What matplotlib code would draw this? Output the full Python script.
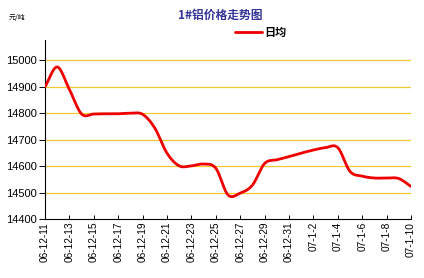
import numpy as np
import matplotlib
matplotlib.use('Agg')
from matplotlib import pyplot as plt

plt.rcParams['font.family'] = ['Liberation Sans', 'Noto Sans CJK SC', 'DejaVu Sans']

# 数据：日期（类别）与日均价
dates = ['06-12-11', '06-12-12', '06-12-13', '06-12-14', '06-12-15', '06-12-16',
         '06-12-17', '06-12-18', '06-12-19', '06-12-20', '06-12-21', '06-12-22',
         '06-12-23', '06-12-24', '06-12-25', '06-12-26', '06-12-27', '06-12-28',
         '06-12-29', '06-12-30', '06-12-31', '07-1-1', '07-1-2', '07-1-3',
         '07-1-4', '07-1-5', '07-1-6', '07-1-7', '07-1-8', '07-1-9', '07-1-10']
price = [14900, 14975, 14890, 14797, 14797, 14798, 14798, 14800, 14796, 14744,
         14649, 14601, 14601, 14608, 14592, 14491, 14498, 14528, 14610, 14624,
         14636, 14649, 14661, 14670, 14670, 14580, 14562, 14555, 14555, 14553,
         14523]
y_ticks = [14400, 14500, 14600, 14700, 14800, 14900, 15000]


def smooth(x, y, n=20):
    # 类似 Excel 的平滑线（Catmull-Rom）
    x = np.asarray(x, float)
    y = np.asarray(y, float)
    px = np.concatenate([[2 * x[0] - x[1]], x, [2 * x[-1] - x[-2]]])
    py = np.concatenate([[2 * y[0] - y[1]], y, [2 * y[-1] - y[-2]]])
    xs, ys = [], []
    t = np.linspace(0, 1, n, endpoint=False)
    for i in range(1, len(px) - 2):
        for p, out in ((px, xs), (py, ys)):
            p0, p1, p2, p3 = p[i - 1], p[i], p[i + 1], p[i + 2]
            out.extend(0.5 * (2 * p1 + (-p0 + p2) * t
                              + (2 * p0 - 5 * p1 + 4 * p2 - p3) * t ** 2
                              + (-p0 + 3 * p1 - 3 * p2 + p3) * t ** 3))
    xs.append(x[-1])
    ys.append(y[-1])
    return np.array(xs), np.array(ys)


fig = plt.figure(figsize=(4.24, 2.78), dpi=100)
ax = fig.add_axes([45 / 424, 1 - 219 / 278, 366 / 424, 179 / 278])

x = np.arange(len(dates))
sx, sy = smooth(x, price)
line, = ax.plot(sx, sy, color='#ee0000', lw=2.0, solid_capstyle='round', zorder=3)

ax.set_xlim(0, len(dates) - 1)
ax.set_ylim(14400, 15077)
ax.set_yticks(y_ticks)
ax.set_yticklabels([str(v) for v in y_ticks], fontsize=8)
ax.set_xticks(x[::2])
ax.set_xticklabels(dates[::2], rotation=90, fontsize=7.3)
for v in y_ticks[1:]:
    ax.axhline(v, color='#f5c830', lw=0.9, zorder=1)

for s in ['top', 'right']:
    ax.spines[s].set_visible(False)
for s in ['left', 'bottom']:
    ax.spines[s].set_color('black')
    ax.spines[s].set_linewidth(0.8)
ax.tick_params(axis='both', length=3, width=0.7, direction='in', pad=2)
ax.tick_params(axis='y', length=4, direction='out')

fig.text(0.52, 0.945, '1#铝价格走势图', ha='center', va='center', fontsize=8.5,
         fontweight='bold', color='#333399', family=['Noto Sans CJK SC'])
fig.text(0.02, 0.935, '元/吨', ha='left', va='center', fontsize=5,
         family=['Noto Sans CJK SC'])
ax.legend([line], ['日均'], loc='center', bbox_to_anchor=(261 / 424, 1 - 32 / 278),
          bbox_transform=fig.transFigure, frameon=False, handlelength=2.4,
          handletextpad=0.2, prop={'family': 'Noto Sans CJK SC', 'size': 8, 'weight': 'bold'})

fig.savefig('out.png', dpi=100)
